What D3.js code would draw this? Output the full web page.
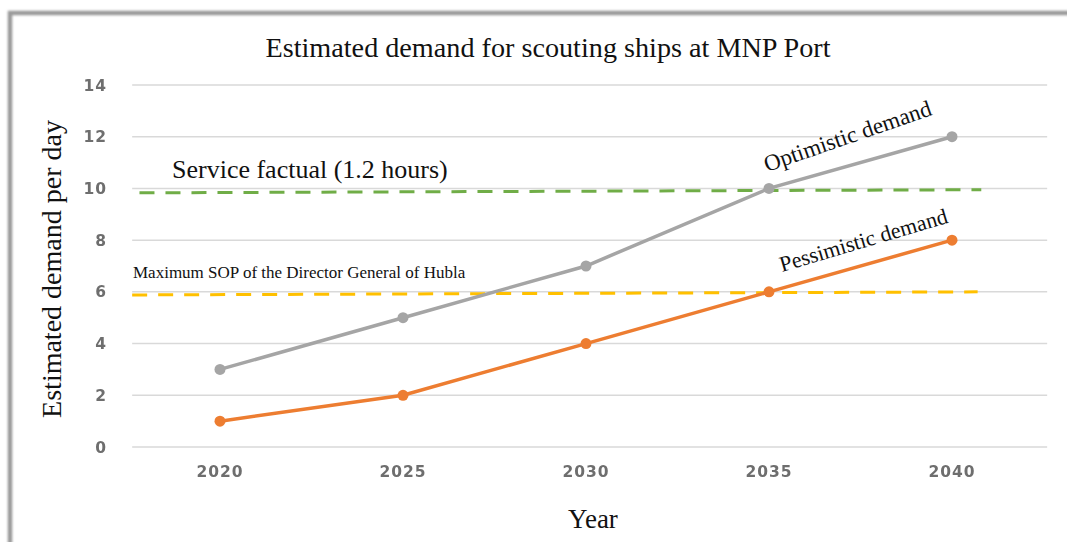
<!DOCTYPE html>
<html><head><meta charset="utf-8">
<script src="https://cdn.jsdelivr.net/npm/d3@7"></script>
<style>body{margin:0;background:#fff}svg{display:block}</style>
</head><body>
<svg id="c" width="1067" height="542"></svg>
<script>
const years = [2020, 2025, 2030, 2035, 2040];
const optimistic = [3, 5, 7, 10, 12];
const pessimistic = [1, 2, 4, 6, 8];
const yTicks = [0, 2, 4, 6, 8, 10, 12, 14];
const serviceLine = [9.83, 9.95];   // start/end value of green dashed line
const sopLine = [5.88, 6.0];        // start/end value of yellow dashed line

const svg = d3.select("#c");
const defs = svg.append("defs");
defs.append("filter").attr("id","blur").append("feGaussianBlur").attr("stdDeviation",1.3);
defs.append("filter").attr("id","soft").append("feGaussianBlur").attr("stdDeviation",0.45);

// frame
svg.append("path").attr("d","M10,545 L10,13 L1075,13")
  .attr("fill","none").attr("stroke","#9a9a9a").attr("stroke-width",4.5).attr("filter","url(#blur)");

const x = d3.scaleLinear().domain([2020, 2040]).range([220, 952]);
const y = d3.scaleLinear().domain([0, 14]).range([447, 85]);

// gridlines
svg.append("g").selectAll("line").data(yTicks).join("line")
  .attr("x1", x(2017.6)).attr("x2", x(2042.6))
  .attr("y1", d => y(d)).attr("y2", d => y(d))
  .attr("stroke", "#d9d9d9").attr("stroke-width", 1.5);

const tickFont = "DejaVu Sans, sans-serif";
// y tick labels
svg.append("g").attr("filter","url(#soft)").selectAll("text").data(yTicks).join("text")
  .attr("x", 107).attr("y", d => y(d)).attr("dy", "0.36em")
  .attr("text-anchor", "end").attr("font-family", tickFont).attr("letter-spacing", 1)
  .attr("font-size", 15.5).attr("font-weight", 600).attr("fill", "#6e6e6e").text(d => d);

// x tick labels
svg.append("g").attr("filter","url(#soft)").selectAll("text").data(years).join("text")
  .attr("x", d => x(d)).attr("y", 477)
  .attr("text-anchor", "middle").attr("font-family", tickFont).attr("letter-spacing", 1)
  .attr("font-size", 15.5).attr("font-weight", 600).attr("fill", "#6e6e6e").text(d => d);

// dashed reference lines
svg.append("line").attr("x1", x(2017.8)).attr("x2", x(2040.8))
  .attr("y1", y(serviceLine[0])).attr("y2", y(serviceLine[1]))
  .attr("stroke", "#70ad47").attr("stroke-width", 3).attr("stroke-dasharray", "15 11");
svg.append("line").attr("x1", x(2017.6)).attr("x2", x(2040.7))
  .attr("y1", y(sopLine[0])).attr("y2", y(sopLine[1]))
  .attr("stroke", "#ffc000").attr("stroke-width", 3).attr("stroke-dasharray", "15 11");

// series
const line = d3.line().x((d,i) => x(years[i])).y(d => y(d));
[[optimistic, "#a5a5a5"], [pessimistic, "#ed7d31"]].forEach(([vals, col]) => {
  svg.append("path").datum(vals).attr("d", line).attr("fill", "none")
    .attr("stroke", col).attr("stroke-width", 3.5);
  svg.append("g").selectAll("circle").data(vals).join("circle")
    .attr("cx", (d,i) => x(years[i])).attr("cy", d => y(d)).attr("r", 5.5).attr("fill", col);
});

const serif = "Liberation Serif, Times New Roman, serif";
// title
svg.append("text").attr("x", 548).attr("y", 57).attr("text-anchor","middle")
  .attr("font-family", serif).attr("font-size", 27).attr("fill","#111")
  .attr("textLength", 565).attr("lengthAdjust","spacingAndGlyphs")
  .text("Estimated demand for scouting ships at MNP Port");
// axis titles
svg.append("text").attr("transform","translate(61,269) rotate(-90)").attr("text-anchor","middle")
  .attr("font-family", serif).attr("font-size", 28).attr("fill","#111").text("Estimated demand per day");
svg.append("text").attr("x", 593).attr("y", 528).attr("text-anchor","middle")
  .attr("font-family", serif).attr("font-size", 27).attr("fill","#111").text("Year");
// annotations
svg.append("text").attr("x", 172).attr("y", 178)
  .attr("font-family", serif).attr("font-size", 26).attr("fill","#111").text("Service factual (1.2 hours)");
svg.append("text").attr("x", 133).attr("y", 278)
  .attr("font-family", serif).attr("font-size", 17).attr("fill","#111").text("Maximum SOP of the Director General of Hubla");
svg.append("text").attr("transform","translate(767,172) rotate(-19)")
  .attr("font-family", serif).attr("font-size", 23).attr("fill","#111").text("Optimistic demand");
svg.append("text").attr("transform","translate(782,272) rotate(-16.5)")
  .attr("font-family", serif).attr("font-size", 22).attr("fill","#111").text("Pessimistic demand");
</script>
</body></html>
